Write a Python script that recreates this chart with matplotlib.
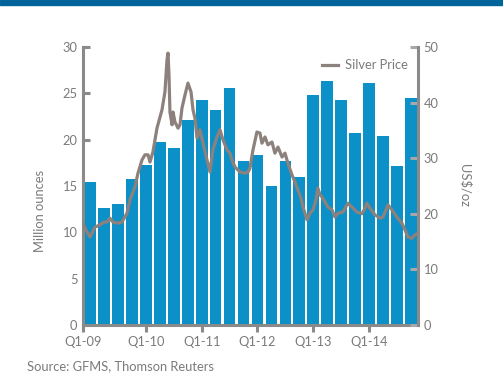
import numpy as np
import matplotlib
matplotlib.use("Agg")
import matplotlib.pyplot as plt

plt.rcParams['font.family'] = ['Lato', 'DejaVu Sans']

# quarterly demand, million ounces, Q1-09 .. Q4-14
quarters = ['Q1-09', 'Q2-09', 'Q3-09', 'Q4-09',
            'Q1-10', 'Q2-10', 'Q3-10', 'Q4-10',
            'Q1-11', 'Q2-11', 'Q3-11', 'Q4-11',
            'Q1-12', 'Q2-12', 'Q3-12', 'Q4-12',
            'Q1-13', 'Q2-13', 'Q3-13', 'Q4-13',
            'Q1-14', 'Q2-14', 'Q3-14', 'Q4-14']
ounces = [15.4, 12.6, 13.05, 15.8,
          17.3, 19.7, 19.1, 22.1,
          24.3, 23.2, 25.6, 17.7,
          18.3, 15.0, 17.7, 16.0,
          24.8, 26.3, 24.3, 20.7,
          26.1, 20.4, 17.1, 24.5]

# silver price trace, quarters since start of 2009 and US$/oz
price_t = [0.0, 0.21, 0.50, 0.86, 1.22, 1.50, 1.72, 1.93, 2.15, 2.51, 2.79,
           3.15, 3.37, 3.72, 3.94, 4.23, 4.44, 4.66, 4.80, 5.01, 5.30, 5.66,
           5.87, 6.02, 6.09, 6.16, 6.23, 6.38, 6.45, 6.59, 6.81, 6.95, 7.09,
           7.31, 7.52, 7.74, 7.88, 8.02, 8.17, 8.38, 8.60, 8.88, 9.10, 9.31,
           9.60, 9.81, 10.03, 10.32, 10.53, 10.67, 10.89, 11.25, 11.60, 11.82,
           11.96, 12.18, 12.46, 12.68, 12.82, 13.04, 13.25, 13.54, 13.75, 13.97,
           14.26, 14.47, 14.68, 14.97, 15.19, 15.40, 15.62, 15.76, 15.90, 16.05,
           16.26, 16.48, 16.69, 16.83, 16.98, 17.12, 17.34, 17.55, 17.84, 18.05,
           18.27, 18.62, 18.98, 19.27, 19.63, 19.99, 20.20, 20.34, 20.56, 20.92,
           21.28, 21.49, 21.85, 22.13, 22.49, 22.85, 23.07, 23.28, 23.57, 23.78,
           24.0]
price = [18.2, 17.1, 15.8, 17.6, 18.0, 18.5, 18.5, 19.2, 18.5, 18.3, 18.5,
         20.1, 22.5, 24.8, 27.3, 29.7, 30.6, 30.6, 29.3, 31.1, 35.4, 38.7,
         41.9, 47.7, 48.9, 45.0, 38.3, 36.0, 38.3, 36.5, 35.4, 36.0, 39.0,
         41.4, 43.5, 41.9, 38.7, 37.2, 33.6, 35.1, 32.7, 29.7, 27.5, 31.5,
         33.8, 35.1, 33.3, 31.5, 30.9, 29.7, 28.4, 27.5, 27.3, 27.5,
         28.2, 31.5, 34.7, 34.5, 32.7, 33.8, 32.4, 32.9, 30.9, 32.0,
         30.2, 30.9, 29.1, 27.0, 25.7, 24.3, 22.8, 21.2, 20.1, 18.9,
         20.1, 20.7, 22.5, 24.6, 23.4, 23.0, 22.1, 21.2, 20.7, 19.4,
         20.1, 20.3, 21.9, 21.2, 20.3, 20.0, 21.0, 21.9, 21.0, 19.8,
         19.2, 19.4, 21.6, 20.7, 19.4, 18.3, 17.1, 15.8, 15.6, 16.2,
         16.5]

tick_labels = ['Q1-09', 'Q1-10', 'Q1-11', 'Q1-12', 'Q1-13', 'Q1-14']

grey = '#8a8a8a'
txt = '#7a7a7a'
blue = '#0b90c8'

fig = plt.figure(figsize=(5.03, 3.85), dpi=100)
ax = fig.add_axes([0.165, 0.156, 0.666, 0.722])
ax2 = ax.twinx()

x = np.arange(len(quarters))
ax.bar(x, ounces, width=0.84, color=blue, zorder=2)
ax.set_xlim(-0.5, len(quarters) - 0.5)
ax.set_ylim(0, 30)
ax.set_yticks(range(0, 31, 5))

ax2.plot(np.array(price_t) - 0.5, price, color='#8c817c', lw=2.3,
         label='Silver Price', zorder=3, solid_joinstyle='round')
ax2.set_ylim(0, 50)
ax2.set_yticks(range(0, 51, 10))

ax.set_xticks([-0.5, 4, 8, 12, 16, 20])
ax.set_xticklabels(tick_labels)

for a in (ax, ax2):
    a.spines['top'].set_visible(False)
    for s in ('left', 'right', 'bottom'):
        a.spines[s].set_color(grey)
        a.spines[s].set_linewidth(2.2)
ax.spines['right'].set_visible(False)
ax2.spines['left'].set_visible(False)
ax2.spines['bottom'].set_visible(False)

ax.tick_params(axis='y', direction='in', length=5, width=2.2, color=grey,
               labelcolor=txt, labelsize=9.3, pad=4)
ax.tick_params(axis='x', direction='out', length=5, width=2.2, color=grey,
               labelcolor=txt, labelsize=9.3, pad=3)
ax2.tick_params(axis='y', direction='in', length=6, width=2.2, color='#a8a8a8',
                labelcolor=txt, labelsize=9.3, pad=4)

ax.set_ylabel('Million ounces', color=txt, fontsize=9.3, va='center')
ax.yaxis.set_label_coords(-0.128, 0.41)
ax2.set_ylabel('US$/oz', color=txt, fontsize=9.3, rotation=270, va='center')
ax2.yaxis.set_label_coords(1.14, 0.5)

leg = ax2.legend(loc='upper right', bbox_to_anchor=(0.985, 0.975), frameon=False,
                 handlelength=1.3, handletextpad=0.5, borderaxespad=0,
                 fontsize=9.3)
for t in leg.get_texts():
    t.set_color(txt)

# header band and source
fig.patches.append(plt.Rectangle((0, 0.988), 1, 0.012, transform=fig.transFigure,
                                 color='#00649a', zorder=0))
fig.text(0.054, 0.038, 'Source: GFMS, Thomson Reuters', color=txt, fontsize=9.3)

fig.savefig('out.png', dpi=100)
